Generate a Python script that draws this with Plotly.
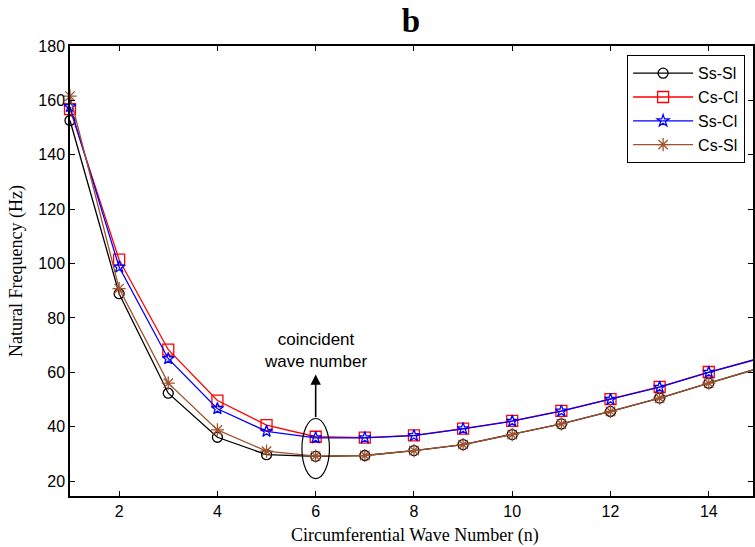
import plotly.graph_objects as go

n = list(range(1, 16))
ss_sl = [152.6, 88.9, 52.3, 36.1, 29.7, 29.1, 29.4, 31.2, 33.4, 37.1, 41.0, 45.6, 50.5, 56.0, 61.4]
cs_cl = [156.8, 101.4, 68.3, 49.6, 40.6, 36.3, 36.0, 36.8, 39.3, 42.1, 45.8, 50.1, 54.6, 60.1, 65.0]
ss_cl = [157.7, 98.7, 65.0, 46.6, 38.3, 35.9, 35.9, 36.7, 39.2, 42.0, 45.7, 50.0, 54.5, 60.0, 64.9]
cs_sl = [161.6, 90.8, 56.0, 38.8, 31.0, 29.2, 29.4, 31.2, 33.4, 37.1, 41.0, 45.6, 50.5, 56.0, 61.4]

series = [
    ("Ss-Sl", ss_sl, "black", "circle-open", 10),
    ("Cs-Cl", cs_cl, "red", "square-open", 11),
    ("Ss-Cl", ss_cl, "blue", "star-open", 9),
    ("Cs-Sl", cs_sl, "#A0522D", "asterisk-open", 11),
]

x_ticks = [2, 4, 6, 8, 10, 12, 14]
y_ticks = [20, 40, 60, 80, 100, 120, 140, 160, 180]

fig = go.Figure()
for name, vals, color, sym, sz in series:
    fig.add_trace(go.Scatter(
        x=n, y=vals, name=name, mode="lines+markers", cliponaxis=False,
        line=dict(color=color, width=1.3),
        marker=dict(symbol=sym, size=sz, color=color, line=dict(color=color, width=1.3)),
    ))

fig.add_shape(type="circle", xref="x", yref="y", x0=5.72, x1=6.28, y0=20.9, y1=43.0,
              line=dict(color="black", width=1.2))
fig.add_annotation(x=6, y=59.2, ax=6, ay=43.0, xref="x", yref="y", axref="x", ayref="y",
                   text="", showarrow=True, arrowhead=2, arrowsize=1.3, arrowwidth=1.6,
                   arrowcolor="black")
fig.add_annotation(x=6, y=68.0, xref="x", yref="y", text="coincident<br>wave number",
                   showarrow=False, font=dict(family="Liberation Sans", size=17, color="black"))
# x-axis title
fig.add_annotation(x=0.5044, y=-0.088, xref="paper", yref="paper", xanchor="center",
                   yanchor="middle", text="Circumferential Wave Number (n)", showarrow=False,
                   font=dict(family="Liberation Serif", size=18, color="black"))

axis_common = dict(
    showline=True, linecolor="black", linewidth=1.5, mirror="ticks",
    ticks="inside", ticklen=5, tickwidth=1, tickcolor="black",
    showgrid=False, zeroline=False,
    tickfont=dict(family="Liberation Sans", size=16, color="black"),
)

fig.update_layout(
    width=755, height=547,
    margin=dict(l=70, r=0, t=46, b=51),
    paper_bgcolor="white", plot_bgcolor="white",
    title=dict(text="<b>b</b>", x=0.5444, xanchor="center", y=0.9625, yanchor="middle",
               font=dict(family="Liberation Serif", size=33, color="black")),
    xaxis=dict(range=[1, 14.9], tickvals=x_ticks, **axis_common),
    yaxis=dict(range=[14.5, 180], tickvals=y_ticks,
               title=dict(text="Natural Frequency (Hz)", standoff=11,
                          font=dict(family="Liberation Serif", size=18, color="black")),
               **axis_common),
    legend=dict(x=0.988, xanchor="right", y=0.98, yanchor="top",
                bordercolor="black", borderwidth=1.3, bgcolor="white",
                font=dict(family="Liberation Sans", size=16, color="black"),
                itemwidth=60),
    showlegend=True,
)

fig.write_html("out.html", config={"displayModeBar": False},
               post_script="document.body.style.margin='0';document.body.style.overflow='hidden';")
